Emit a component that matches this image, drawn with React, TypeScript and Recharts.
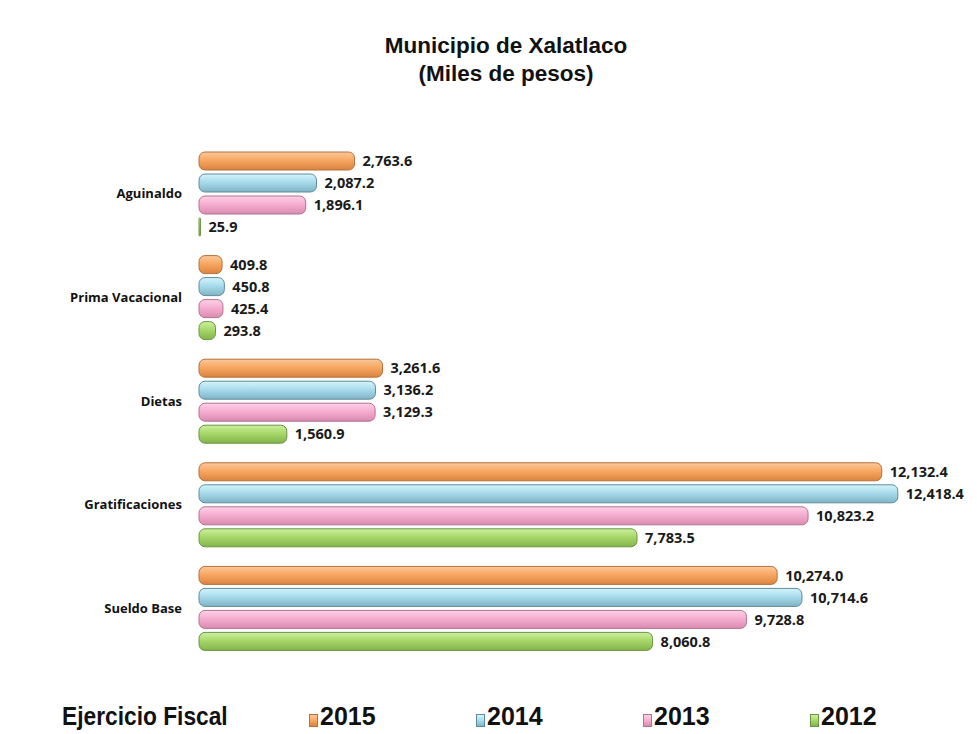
import React from 'react'
import { BarChart, Bar, XAxis, YAxis, LabelList, Legend } from 'recharts'

const categories = ['Aguinaldo', 'Prima  Vacacional', 'Dietas', 'Gratificaciones', 'Sueldo Base']
const values2015 = [2763.6, 409.8, 3261.6, 12132.4, 10274.0]
const values2014 = [2087.2, 450.8, 3136.2, 12418.4, 10714.6]
const values2013 = [1896.1, 425.4, 3129.3, 10823.2, 9728.8]
const values2012 = [25.9, 293.8, 1560.9, 7783.5, 8060.8]

const years = ['2015', '2014', '2013', '2012']

const data = categories.map((name, i) => ({
  name,
  y2015: values2015[i],
  y2014: values2014[i],
  y2013: values2013[i],
  y2012: values2012[i],
}))

// top / middle / bottom of each bar gradient, plus the outline
const palette = [
  { key: 'y2015', top: '#fcc89c', mid: '#f8a862', bot: '#d98440', line: '#b8703a' },
  { key: 'y2014', top: '#d4f4fb', mid: '#a8dcec', bot: '#7fb4c6', line: '#5e8c9c' },
  { key: 'y2013', top: '#fcd2e6', mid: '#f6aed0', bot: '#d88bb0', line: '#b57191' },
  { key: 'y2012', top: '#cdf0a0', mid: '#a8d86a', bot: '#83b44c', line: '#6c9440' },
]

const fmt = (v: any) =>
  Number(v).toLocaleString('en-US', { minimumFractionDigits: 1, maximumFractionDigits: 1 })

const LegendBox = () => (
  <div
    style={{
      display: 'flex',
      alignItems: 'center',
      fontFamily: '"Liberation Sans", Arial, sans-serif',
      fontWeight: 'bold',
      fontSize: 25,
      color: '#111',
    }}
  >
    <span style={{ width: 247, paddingLeft: 54 }}>
      <span style={{ display: 'inline-block', transform: 'scaleX(0.91)', transformOrigin: 'left' }}>
        Ejercicio Fiscal
      </span>
    </span>
    {years.map((y, i) => (
      <span key={y} style={{ display: 'flex', alignItems: 'center', width: 167 }}>
        <span
          style={{
            display: 'inline-block',
            width: 7,
            height: 11,
            marginRight: 2,
            marginTop: 8,
            background: `linear-gradient(${palette[i].top}, ${palette[i].mid}, ${palette[i].bot})`,
            border: `1px solid ${palette[i].line}`,
          }}
        />
        <span>{y}</span>
      </span>
    ))}
  </div>
)

export default function App() {
  return (
    <div style={{ position: 'relative', width: 969, height: 726, background: '#fff' }}>
      <div
        style={{
          position: 'absolute',
          top: 24,
          left: 9,
          width: 978,
          textAlign: 'center',
          fontFamily: '"Liberation Sans", Arial, sans-serif',
          fontWeight: 'bold',
          fontSize: 22.5,
          lineHeight: '28px',
          color: '#111',
        }}
      >
        Municipio de Xalatlaco
        <br />
        (Miles de pesos)
      </div>
      <BarChart
        width={969}
        height={726}
        data={data}
        layout="vertical"
        margin={{ top: 134, right: 38, bottom: 74, left: 0 }}
        barGap={4}
        barCategoryGap={10}
      >
        <defs>
          {palette.map((p) => (
            <linearGradient key={p.key} id={`grad-${p.key}`} x1="0" y1="0" x2="0" y2="1">
              <stop offset="0%" stopColor={p.top} />
              <stop offset="45%" stopColor={p.mid} />
              <stop offset="100%" stopColor={p.bot} />
            </linearGradient>
          ))}
        </defs>
        <XAxis type="number" domain={[0, 13150]} hide />
        <YAxis
          type="category"
          dataKey="name"
          width={191}
          axisLine={false}
          tickLine={false}
          tickMargin={11}
          tick={{ fontFamily: '"Open Sans", sans-serif', fontSize: 13, fontWeight: 'bold', fill: '#111' }}
        />
        <Legend
          layout="horizontal"
          verticalAlign="middle"
          align="center"
          content={() => <LegendBox />}
          wrapperStyle={{ position: 'absolute', top: 694, left: 0, width: 969 }}
        />
        {palette.map((p, i) => (
          <Bar
            key={p.key}
            dataKey={p.key}
            name={years[i]}
            fill={`url(#grad-${p.key})`}
            stroke={p.line}
            strokeWidth={1}
            radius={6}
            isAnimationActive={false}
          >
            <LabelList
              dataKey={p.key}
              position="right"
              offset={8}
              formatter={fmt}
              style={{ fontFamily: '"Open Sans", sans-serif', fontSize: 14.5, fontWeight: 'bold', fill: '#1a1a1a' }}
            />
          </Bar>
        ))}
      </BarChart>
    </div>
  )
}
